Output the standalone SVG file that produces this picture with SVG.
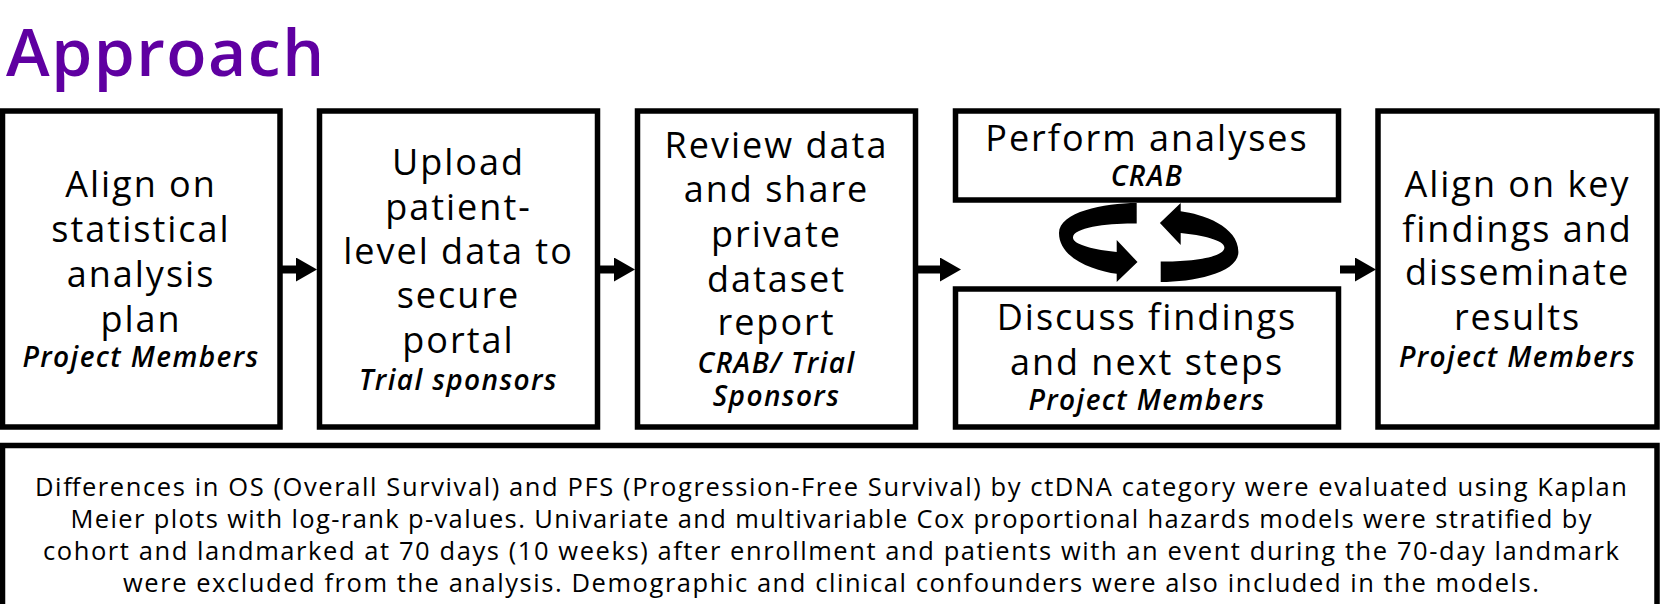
<svg xmlns="http://www.w3.org/2000/svg" width="1667" height="604" viewBox="0 0 1667 604">
  <defs>
    <style>
      .box { fill: #ffffff; stroke: #000000; stroke-width: 5.5; }
      .lbl { font-family: "Open Sans", "Noto Sans", "DejaVu Sans", sans-serif; font-size: 36px; letter-spacing: 2px; fill: #000000; text-anchor: middle; }
      .who { font-family: "Open Sans", "Noto Sans", "DejaVu Sans", sans-serif; font-size: 28px; font-style: italic; font-weight: 600; letter-spacing: 1.4px; fill: #000000; text-anchor: middle; }
      .para { font-family: "Open Sans", "Noto Sans", "DejaVu Sans", sans-serif; font-size: 25.5px; fill: #000000; text-anchor: middle; }
      .title { font-family: "Open Sans", "Noto Sans", "DejaVu Sans", sans-serif; font-size: 66px; font-weight: 600; letter-spacing: 1.5px; fill: #5f00a1; }
      .link { stroke: #000000; stroke-width: 8; fill: none; }
    </style>
    <marker id="head" markerUnits="userSpaceOnUse" markerWidth="22" markerHeight="26" refX="0" refY="12" orient="auto">
      <path d="M0,0 L21,12 L0,24 Z" fill="#000000"/>
    </marker>
    <!-- one half of the cycle symbol: curved ribbon ending in an arrowhead -->
    <path id="swirl" d="M1136.7,203 C1104,203 1059,212 1059,233 C1059,259 1095,271 1116.7,273.8 L1116.7,282 L1137.5,262 L1116.7,240 L1116.7,252 C1096,250 1073,245 1073,237.5 C1073,227 1110,223 1136.7,223.5 Z" fill="#000000"/>
  </defs>

  <text class="title" x="6" y="76">Approach</text>

  <g id="connectors">
    <line class="link" x1="282" y1="269.5" x2="296" y2="269.5" marker-end="url(#head)"/>
    <line class="link" x1="599" y1="269.5" x2="614" y2="269.5" marker-end="url(#head)"/>
    <line class="link" x1="917" y1="269.5" x2="940" y2="269.5" marker-end="url(#head)"/>
    <line class="link" x1="1340" y1="269.5" x2="1355" y2="269.5" marker-end="url(#head)"/>
    <g id="cycle">
      <use href="#swirl"/>
      <use href="#swirl" transform="rotate(180 1148.7 242.5)"/>
    </g>
  </g>

  <g id="align-plan">
    <rect class="box" x="2.5" y="111" width="277.5" height="316"/>
    <text class="lbl" x="141" y="197">Align on</text>
    <text class="lbl" x="141" y="242">statistical</text>
    <text class="lbl" x="141" y="287">analysis</text>
    <text class="lbl" x="141" y="332">plan</text>
    <text class="who" x="141" y="367">Project Members</text>
  </g>

  <g id="upload-data">
    <rect class="box" x="319.5" y="111" width="278" height="316"/>
    <text class="lbl" x="458.5" y="175">Upload</text>
    <text class="lbl" x="458.5" y="220">patient-</text>
    <text class="lbl" x="458.5" y="264">level data to</text>
    <text class="lbl" x="458.5" y="308">secure</text>
    <text class="lbl" x="458.5" y="353">portal</text>
    <text class="who" x="458.5" y="390">Trial sponsors</text>
  </g>

  <g id="review-data">
    <rect class="box" x="637.5" y="111" width="278" height="316"/>
    <text class="lbl" x="776.5" y="158">Review data</text>
    <text class="lbl" x="776.5" y="202">and share</text>
    <text class="lbl" x="776.5" y="247">private</text>
    <text class="lbl" x="776.5" y="292">dataset</text>
    <text class="lbl" x="776.5" y="335">report</text>
    <text class="who" x="776.5" y="373">CRAB/ Trial</text>
    <text class="who" x="776.5" y="406">Sponsors</text>
  </g>

  <g id="perform-analyses">
    <rect class="box" x="955.5" y="111" width="383" height="89"/>
    <text class="lbl" x="1147" y="151">Perform analyses</text>
    <text class="who" x="1147" y="186">CRAB</text>
  </g>

  <g id="discuss-findings">
    <rect class="box" x="955.5" y="289" width="383" height="138"/>
    <text class="lbl" x="1147" y="330">Discuss findings</text>
    <text class="lbl" x="1147" y="375">and next steps</text>
    <text class="who" x="1147" y="410">Project Members</text>
  </g>

  <g id="disseminate">
    <rect class="box" x="1378" y="111" width="279" height="316"/>
    <text class="lbl" x="1517.5" y="197">Align on key</text>
    <text class="lbl" x="1517.5" y="242">findings and</text>
    <text class="lbl" x="1517.5" y="285">disseminate</text>
    <text class="lbl" x="1517.5" y="330">results</text>
    <text class="who" x="1517.5" y="367">Project Members</text>
  </g>

  <g id="methods-note">
    <rect class="box" x="2.5" y="445.5" width="1654.5" height="200"/>
    <text class="para" x="831" y="496" textLength="1592">Differences in OS (Overall Survival) and PFS (Progression-Free Survival) by ctDNA category were evaluated using Kaplan</text>
    <text class="para" x="831" y="528" textLength="1521">Meier plots with log-rank p-values. Univariate and multivariable Cox proportional hazards models were stratified by</text>
    <text class="para" x="831" y="560" textLength="1576">cohort and landmarked at 70 days (10 weeks) after enrollment and patients with an event during the 70-day landmark</text>
    <text class="para" x="831" y="592" textLength="1416">were excluded from the analysis. Demographic and clinical confounders were also included in the models.</text>
  </g>
</svg>
